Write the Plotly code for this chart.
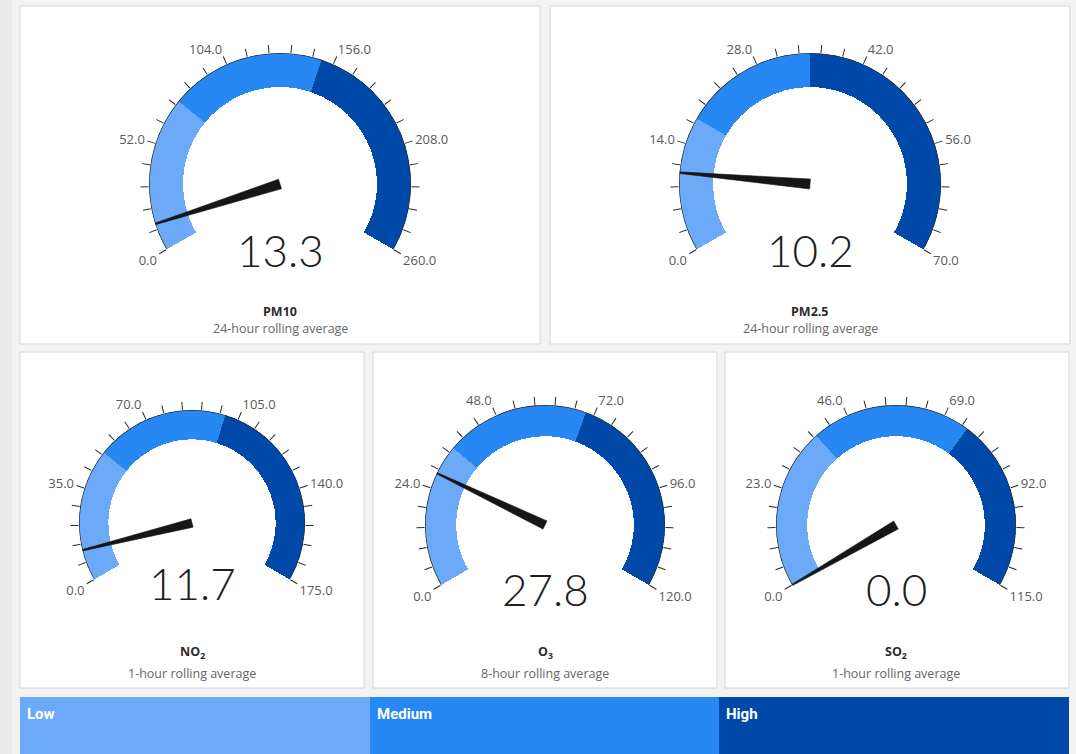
import math
import plotly.graph_objects as go

# ---------------- data ----------------
pollutants = ["PM10", "PM2.5", "NO<sub>2</sub>", "O<sub>3</sub>", "SO<sub>2</sub>"]
averaging = ["24-hour rolling average", "24-hour rolling average",
             "1-hour rolling average", "8-hour rolling average", "1-hour rolling average"]
gauge_max = [260, 70, 175, 120, 115]
low_limit = [75, 17.5, 50, 35, 37.5]
medium_limit = [150, 35, 100, 70, 75]
values = [13.3, 10.2, 11.7, 27.8, 0.0]
band_names = ["Low", "Medium", "High"]

# ---------------- styles / layout ----------------
W, H = 1076, 754
band_colors = ["#6caaf8", "#2787f3", "#0049a9"]
SWEEP = 240.0          # degrees of the dial
N_MINOR = 25           # tick intervals
N_MAJOR = 5            # labelled intervals
INNER = 0.74           # inner radius of the band ring
TXT = "Open Sans, Noto Sans, sans-serif"

# card rectangles in pixels (x0, y0, x1, y1)
cards = [(20, 6, 540, 344), (550, 6, 1070, 344),
         (20, 352, 364, 688), (373, 352, 717, 688), (725, 352, 1069, 688)]
# dial centres and radii in pixels
centers = [(280, 184), (810, 184), (192, 523), (545, 525), (896, 525)]
radii = [131, 131, 113, 120, 120]
number_y = [250, 250, 583, 589, 589]
title_y = [311, 311, 652, 652, 652]
sub_y = [328, 328, 673, 673, 673]
legend_box = (20, 697, 1069, 754)


def fx(p):
    return p / W


def fy(p):
    return 1 - p / H


fig = go.Figure()
shapes = []
annotations = []

# page background bits
shapes.append(dict(type="rect", xref="paper", yref="paper", x0=0, x1=fx(12), y0=0, y1=1,
                   fillcolor="#ebebeb", line=dict(width=0), layer="below"))
for (x0, y0, x1, y1) in cards:
    shapes.append(dict(type="rect", xref="paper", yref="paper",
                       x0=fx(x0), x1=fx(x1), y0=fy(y1), y1=fy(y0),
                       fillcolor="white", line=dict(color="#d6d6d6", width=1), layer="below"))

for i in range(5):
    pid = "polar" if i == 0 else f"polar{i+1}"
    mx = gauge_max[i]
    scale = SWEEP / mx

    # bands
    edges = [0, low_limit[i], medium_limit[i], mx]
    for b in range(3):
        a0, a1 = edges[b] * scale, edges[b + 1] * scale
        fig.add_trace(go.Barpolar(
            r=[1 - INNER], base=[INNER], theta=[(a0 + a1) / 2], width=[a1 - a0],
            marker=dict(color=band_colors[b], line=dict(width=0)),
            subplot=pid, showlegend=False, hoverinfo="skip"))

    # outer rim line
    n = 121
    fig.add_trace(go.Scatterpolar(
        r=[1.0] * n, theta=[SWEEP * k / (n - 1) for k in range(n)],
        mode="lines", line=dict(color="#1f2a33", width=1.5),
        subplot=pid, showlegend=False, hoverinfo="skip"))

    # needle (tapered)
    ang = values[i] * scale
    hb, ht, L = 0.038, 0.006, 1.0
    pts = [(0.0, hb), (L, ht), (L, -ht), (0.0, -hb)]
    rr, tt = [], []
    for d, h in pts:
        rr.append(math.hypot(d, h))
        tt.append(ang + math.degrees(math.atan2(h, d)))
    rr.append(rr[0]); tt.append(tt[0])
    fig.add_trace(go.Scatterpolar(
        r=rr, theta=tt, mode="lines", fill="toself", fillcolor="#161616",
        line=dict(color="#161616", width=0.6),
        subplot=pid, showlegend=False, hoverinfo="skip"))

    cx, cy = centers[i]
    R = radii[i]
    tickvals = [SWEEP * k / N_MINOR for k in range(N_MINOR + 1)]
    ticktext = [("%.1f" % (mx * k / N_MINOR)) if k % (N_MINOR // N_MAJOR) == 0 else " "
                for k in range(N_MINOR + 1)]
    fig.layout[pid] = dict(
        domain=dict(x=[fx(cx - R), fx(cx + R)], y=[fy(cy + R), fy(cy - R)]),
        bgcolor="rgba(0,0,0,0)",
        radialaxis=dict(visible=False, range=[0, 1]),
        angularaxis=dict(rotation=210, direction="clockwise", thetaunit="degrees",
                         showline=False, showgrid=False,
                         tickmode="array", tickvals=tickvals, ticktext=ticktext,
                         ticks="outside", ticklen=8, tickwidth=1, tickcolor="#2a2a2a",
                         tickfont=dict(family=TXT, size=13, color="#5a5a5a")),
    )

    annotations.append(dict(xref="paper", yref="paper", x=fx(cx), y=fy(number_y[i]),
                            text="%.1f" % values[i], showarrow=False,
                            xanchor="center", yanchor="middle",
                            font=dict(family="Lato, Open Sans, sans-serif", size=44,
                                      color="#1e1e1e", weight=300)))
    annotations.append(dict(xref="paper", yref="paper", x=fx(cx), y=fy(title_y[i]),
                            text="<b>%s</b>" % pollutants[i], showarrow=False,
                            xanchor="center", yanchor="middle",
                            font=dict(family=TXT, size=12.5, color="#2b2b2b")))
    annotations.append(dict(xref="paper", yref="paper", x=fx(cx), y=fy(sub_y[i]),
                            text=averaging[i], showarrow=False,
                            xanchor="center", yanchor="middle",
                            font=dict(family=TXT, size=12.5, color="#666666")))

# legend bar as stacked horizontal bar
lx0, ly0, lx1, ly1 = legend_box
for b in range(3):
    fig.add_trace(go.Bar(x=[1], y=["legend"], orientation="h", base=[b],
                         marker=dict(color=band_colors[b], line=dict(width=0)),
                         showlegend=False, hoverinfo="skip", xaxis="x", yaxis="y"))
    annotations.append(dict(xref="x", yref="paper", x=b, y=fy(714), text="<b>%s</b>" % band_names[b],
                            showarrow=False, xanchor="left", yanchor="middle", xshift=5,
                            font=dict(family="Liberation Sans Narrow, Roboto, sans-serif",
                                      size=15, color="white")))

fig.update_layout(
    width=W, height=H, margin=dict(l=0, r=0, t=0, b=0),
    paper_bgcolor="#f3f3f3", plot_bgcolor="rgba(0,0,0,0)",
    barmode="overlay", bargap=0,
    xaxis=dict(domain=[fx(lx0), fx(lx1)], range=[0, 3], visible=False, fixedrange=True),
    yaxis=dict(domain=[0, fy(ly0)], range=[-0.5, 0.5], visible=False, fixedrange=True),
    shapes=shapes, annotations=annotations, showlegend=False,
)

fig.write_html("out.html", config={"displayModeBar": False},
               post_script="document.body.style.margin='0';")
